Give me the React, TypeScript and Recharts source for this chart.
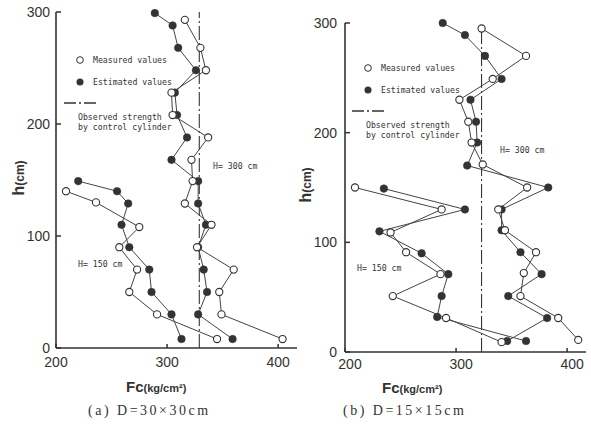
import React from 'react';
import { ScatterChart, Scatter, XAxis, YAxis, ReferenceLine } from 'recharts';

// ---------- Data (Fc in kg/cm², h in cm) ----------
// Panel (a) D=30x30cm
const aUpperMeasuredH = [293, 268, 248, 228, 208, 188, 168, 149, 129, 110, 90, 70, 50, 30, 8];
const aUpperMeasuredFc = [316, 330, 335, 304, 305, 337, 322, 323, 316, 340, 327, 360, 347, 349, 404];
const aUpperEstimatedH = [299, 288, 268, 248, 228, 208, 188, 168, 149, 129, 110, 90, 70, 50, 30, 8];
const aUpperEstimatedFc = [289, 305, 310, 326, 307, 309, 318, 304, 328, 328, 335, 328, 333, 336, 328, 359];
const aLowerMeasuredH = [140, 130, 108, 90, 70, 50, 30, 8];
const aLowerMeasuredFc = [209, 236, 275, 257, 273, 266, 291, 345];
const aLowerEstimatedH = [149, 140, 129, 110, 90, 70, 50, 30, 8];
const aLowerEstimatedFc = [220, 255, 265, 259, 266, 284, 286, 304, 313];
const aControl = 329;

// Panel (b) D=15x15cm
const bUpperMeasuredH = [295, 270, 249, 230, 210, 191, 171, 150, 130, 111, 91, 72, 51, 31, 11];
const bUpperMeasuredFc = [323, 363, 333, 303, 311, 314, 324, 364, 338, 344, 372, 361, 358, 392, 410];
const bUpperEstimatedH = [300, 289, 270, 249, 230, 210, 191, 170, 150, 130, 111, 91, 71, 51, 31, 10];
const bUpperEstimatedFc = [288, 308, 326, 341, 313, 318, 319, 310, 383, 341, 341, 358, 377, 347, 382, 346];
const bLowerMeasuredH = [150, 130, 109, 91, 71, 51, 31, 9];
const bLowerMeasuredFc = [209, 287, 241, 255, 286, 243, 291, 341];
const bLowerEstimatedH = [149, 130, 110, 90, 71, 51, 32, 10];
const bLowerEstimatedFc = [235, 308, 231, 269, 293, 287, 283, 363];
const bControl = 323;

const xTicks = [200, 300, 400];
const yTicks = [0, 100, 200, 300];

const zip = (h: number[], fc: number[]) => h.map((v, i) => ({ h: v, fc: fc[i] }));

const INK = '#333';
const tickFont = '"Liberation Sans", Arial, sans-serif';
const monoFont = '"DejaVu Sans Mono", "Liberation Mono", monospace';

const OpenDot = (p: any) => (
  <circle cx={p.cx} cy={p.cy} r={3.6} fill="#fff" stroke={INK} strokeWidth={1.1} />
);
const FilledDot = (p: any) => <circle cx={p.cx} cy={p.cy} r={3.8} fill={INK} stroke={INK} strokeWidth={0.5} />;

type PanelProps = {
  left: number;
  width: number;
  height: number;
  marginTop: number;
  marginRight: number;
  yAxisWidth: number;
  xAxisHeight: number;
  xLabelOffset: number;
  xLabelDx: number;
  yLabelGap: number;
  control: number;
  upperMeasured: { h: number; fc: number }[];
  upperEstimated: { h: number; fc: number }[];
  lowerMeasured: { h: number; fc: number }[];
  lowerEstimated: { h: number; fc: number }[];
};

const Panel = (pp: PanelProps) => {
  const axisX = pp.yAxisWidth;
  const axisY = pp.height - pp.xAxisHeight;
  const YTick = (p: any) => (
    <g>
      <line x1={axisX} x2={axisX + 5} y1={p.y} y2={p.y} stroke={INK} strokeWidth={1.5} />
      <text x={axisX - pp.yLabelGap} y={p.y} dy={5} textAnchor="end" fontFamily={tickFont} fontSize={14} fill={INK}>
        {p.payload.value}
      </text>
    </g>
  );
  const XTick = (p: any) => (
    <g>
      <line x1={p.x} x2={p.x} y1={axisY} y2={axisY - 4} stroke={INK} strokeWidth={1.5} />
      <text
        x={p.x + pp.xLabelDx}
        y={axisY + pp.xLabelOffset}
        dy={5}
        textAnchor="middle"
        fontFamily={tickFont}
        fontSize={14}
        fill={INK}
      >
        {p.payload.value}
      </text>
    </g>
  );
  const lineStyle = { stroke: '#444', strokeWidth: 1 };
  return (
    <div style={{ position: 'absolute', left: pp.left, top: 0 }}>
      <ScatterChart
        width={pp.width}
        height={pp.height}
        margin={{ top: pp.marginTop, right: pp.marginRight, bottom: 0, left: 0 }}
      >
        <XAxis
          type="number"
          dataKey="fc"
          domain={[200, 417]}
          ticks={xTicks}
          height={pp.xAxisHeight}
          tickLine={false}
          tick={XTick}
          axisLine={{ stroke: INK, strokeWidth: 1.6 }}
        />
        <YAxis
          type="number"
          dataKey="h"
          domain={[0, 300]}
          ticks={yTicks}
          width={pp.yAxisWidth}
          tickLine={false}
          tick={YTick}
          axisLine={{ stroke: INK, strokeWidth: 1.6 }}
        />
        <ReferenceLine x={pp.control} stroke="#222" strokeWidth={1} strokeDasharray="14 3 2 3" />
        <Scatter data={pp.upperEstimated} line={lineStyle} shape={FilledDot} isAnimationActive={false} />
        <Scatter data={pp.lowerEstimated} line={lineStyle} shape={FilledDot} isAnimationActive={false} />
        <Scatter data={pp.upperMeasured} line={lineStyle} shape={OpenDot} isAnimationActive={false} />
        <Scatter data={pp.lowerMeasured} line={lineStyle} shape={OpenDot} isAnimationActive={false} />
      </ScatterChart>
    </div>
  );
};

const Legend = ({ x, y }: { x: number; y: number }) => (
  <g fontFamily={monoFont} fontSize={8.2} fill={INK}>
    <circle cx={x + 16} cy={y} r={3.3} fill="#fff" stroke={INK} strokeWidth={1} />
    <text x={x + 29} y={y + 3}>Measured values</text>
    <circle cx={x + 16} cy={y + 22} r={3.5} fill={INK} />
    <text x={x + 29} y={y + 25}>Estimated values</text>
    <line x1={x} x2={x + 32} y1={y + 43} y2={y + 43} stroke={INK} strokeWidth={1.3} strokeDasharray="12 3 2 3" />
    <text x={x + 14} y={y + 60}>Observed strength</text>
    <text x={x + 14} y={y + 70}>by control cylinder</text>
  </g>
);

const FcLabel = ({ x, y }: { x: number; y: number }) => (
  <text x={x} y={y} fontFamily={tickFont} fill={INK}>
    <tspan fontSize={15} fontWeight={600}>Fc</tspan>
    <tspan fontSize={11} fontWeight={600}>(kg/cm²)</tspan>
  </text>
);

const HLabel = ({ x, y }: { x: number; y: number }) => (
  <text x={x} y={y} transform={`rotate(-90 ${x} ${y})`} textAnchor="middle" fontFamily={tickFont} fill={INK}>
    <tspan fontSize={16} fontWeight={600}>h</tspan>
    <tspan fontSize={12} fontWeight={600}>(cm)</tspan>
  </text>
);

export default function App() {
  return (
    <div style={{ position: 'absolute', left: 0, top: 0, width: 591, height: 430, background: '#fff', overflow: 'hidden' }}>
      <Panel
        left={0}
        width={300}
        height={380}
        marginTop={12}
        marginRight={3}
        yAxisWidth={56}
        xAxisHeight={32}
        xLabelOffset={14}
        xLabelDx={0}
        yLabelGap={6}
        control={aControl}
        upperMeasured={zip(aUpperMeasuredH, aUpperMeasuredFc)}
        upperEstimated={zip(aUpperEstimatedH, aUpperEstimatedFc)}
        lowerMeasured={zip(aLowerMeasuredH, aLowerMeasuredFc)}
        lowerEstimated={zip(aLowerEstimatedH, aLowerEstimatedFc)}
      />
      <Panel
        left={300}
        width={291}
        height={380}
        marginTop={23}
        marginRight={5}
        yAxisWidth={45}
        xAxisHeight={28}
        xLabelOffset={12}
        xLabelDx={5}
        yLabelGap={8}
        control={bControl}
        upperMeasured={zip(bUpperMeasuredH, bUpperMeasuredFc)}
        upperEstimated={zip(bUpperEstimatedH, bUpperEstimatedFc)}
        lowerMeasured={zip(bLowerMeasuredH, bLowerMeasuredFc)}
        lowerEstimated={zip(bLowerEstimatedH, bLowerEstimatedFc)}
      />
      <svg width={591} height={430} style={{ position: 'absolute', left: 0, top: 0, pointerEvents: 'none' }}>
        <Legend x={64} y={60} />
        <Legend x={352} y={68} />
        <text x={213} y={169} fontFamily={monoFont} fontSize={8.2} fill={INK}>H= 300 cm</text>
        <text x={78} y={267} fontFamily={monoFont} fontSize={8.2} fill={INK}>H= 150 cm</text>
        <text x={500} y={153} fontFamily={monoFont} fontSize={8.2} fill={INK}>H= 300 cm</text>
        <text x={357} y={271} fontFamily={monoFont} fontSize={8.2} fill={INK}>H= 150 cm</text>
        <HLabel x={24} y={178} />
        <HLabel x={311} y={185} />
        <FcLabel x={126} y={392} />
        <FcLabel x={382} y={393} />
        <text x={88} y={415} fontFamily='"Liberation Serif", "DejaVu Serif", serif' fontSize={14} fill={INK} letterSpacing={2.5}>
          (a)  D=30×30cm
        </text>
        <text x={343} y={415} fontFamily='"Liberation Serif", "DejaVu Serif", serif' fontSize={14} fill={INK} letterSpacing={2.5}>
          (b)  D=15×15cm
        </text>
      </svg>
    </div>
  );
}
